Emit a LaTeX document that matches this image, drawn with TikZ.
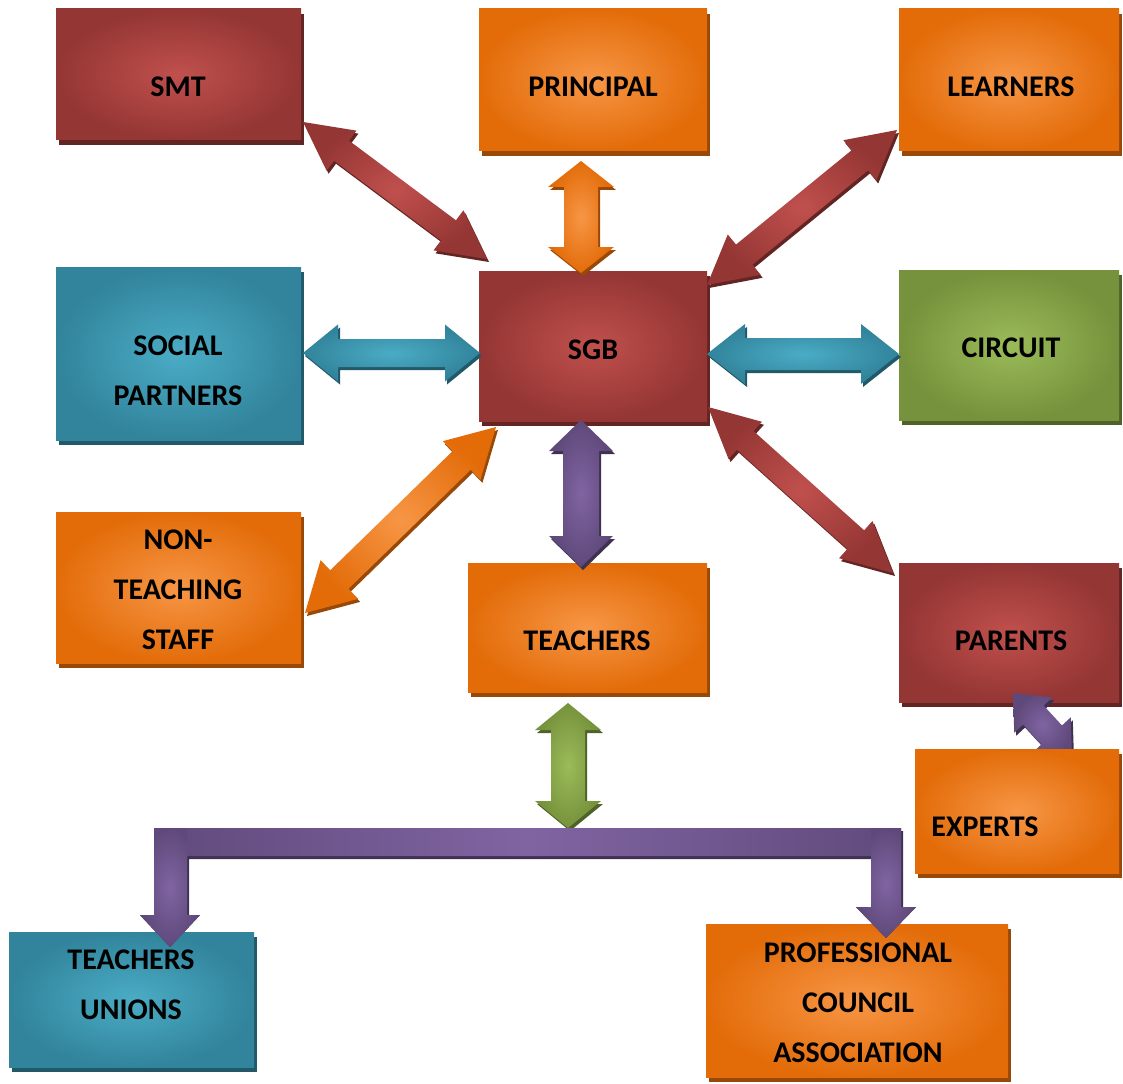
\documentclass[tikz,border=0pt]{standalone}
\usepackage{fontspec}
\setmainfont{Carlito}
\usetikzlibrary{calc,shadows,fit}
\definecolor{redB}{HTML}{943634}\definecolor{redL}{HTML}{C0504D}\definecolor{redD}{HTML}{632523}
\definecolor{orgB}{HTML}{E36C09}\definecolor{orgL}{HTML}{F79646}\definecolor{orgD}{HTML}{984807}
\definecolor{tealB}{HTML}{31849B}\definecolor{tealL}{HTML}{4BACC6}\definecolor{tealD}{HTML}{215968}
\definecolor{grnB}{HTML}{76923C}\definecolor{grnL}{HTML}{9BBB59}\definecolor{grnD}{HTML}{4F6228}
\definecolor{purB}{HTML}{5F497A}\definecolor{purL}{HTML}{8064A2}\definecolor{purD}{HTML}{3F3151}
\tikzset{
  boxbase/.style={rectangle, inner sep=0pt, draw=none},
  boxof/.style={boxbase, inner color=#1L, outer color=#1B,
     general shadow={fill=#1D, shadow xshift=3pt, shadow yshift=-5pt}},
  lbl/.style={font=\fontsize{30}{50}\selectfont\bfseries, align=center, inner sep=0pt, text=black},
  elbowshadow/.style={fill=purD, shift={(2,3)}},
  elbowfill/.style={left color=purB, right color=purB, middle color=purL},
  legfill/.style={inner color=purL, outer color=purB},
}
\newcommand\arrpoly[4]{%
  \path[#1] (0,0) -- (#4,#3) -- (#4,#2) -- ({\arrlen-#4},#2) -- ({\arrlen-#4},#3) -- (\arrlen,0)
    -- ({\arrlen-#4},-#3) -- ({\arrlen-#4},-#2) -- (#4,-#2) -- (#4,-#3) -- cycle;}
\newcommand\dblarrow[6]{%
  \path let \p1=($(#2)-(#1)$) in \pgfextra{\pgfmathsetmacro\tmplen{veclen(\x1,\y1)}\pgfmathsetmacro\tmpang{atan2(\y1,\x1)}\global\let\arrlen\tmplen\global\let\arrang\tmpang};
  \begin{scope}[shift={($(#1)+(2,3)$)}, rotate=\arrang, x=1pt, y=1pt]
    \arrpoly{fill=#3D}{#4}{#5}{#6}
  \end{scope}
  \begin{scope}[shift={(#1)}, rotate=\arrang, x=1pt, y=1pt]
    \arrpoly{inner color=#3L, outer color=#3B}{#4}{#5}{#6}
  \end{scope}}
\newcommand\elbowpath[1]{%
  \path[#1] (154,828) -- (901,828) -- (901,907) -- ($(barR)+(30,-31)$) -- (barR)
    -- ($(barR)+(-30,-31)$) -- (871,907) -- (871,856) -- (187,856) -- (187,915) -- ($(barL)+(30,-32)$)
    -- (barL) -- ($(barL)+(-30,-32)$) -- (154,915) -- cycle;}
\begin{document}
\begin{tikzpicture}[x=1pt, y=-1pt]
\fill[white] (0,0) rectangle (1123,1083);
\useasboundingbox (0,0) rectangle (1123,1083);
% boxes
\node[boxof=red,  fit={(56,9) (301,140)}] (smt) {};
\node[boxof=org,  fit={(479,9) (707,151)}] (prin) {};
\node[boxof=org,  fit={(899,9) (1119,151)}] (lrn) {};
\node[boxof=teal, fit={(56,267) (301,440)}] (soc) {};
\node[boxof=red,  fit={(479,271) (707,421)}] (sgb) {};
\node[boxof=grn,  fit={(899,270) (1119,420)}] (circ) {};
\node[boxof=org,  fit={(56,512) (301,663)}] (nts) {};
\node[boxof=org,  fit={(468,563) (707,692)}] (tch) {};
\node[boxof=red,  fit={(899,563) (1119,702)}] (par) {};
\node[boxof=teal, fit={(9,932) (254,1067)}] (tu) {};
\node[boxof=org,  fit={(706,924) (1008,1077)}] (pca) {};
% arrow end points
\coordinate (a1s) at (303,122); \coordinate (a1e) at (487,259);
\coordinate (a2s) at (581,161); \coordinate (a2e) at (581,273);
\coordinate (a3s) at (897,130); \coordinate (a3e) at (707,285);
\coordinate (a4s) at (303,353); \coordinate (a4e) at (480,353);
\coordinate (a5s) at (707,354); \coordinate (a5e) at (899,354);
\coordinate (a6s) at (305,613); \coordinate (a6e) at (496,427);
\coordinate (a7s) at (581,420); \coordinate (a7e) at (581,567);
\coordinate (a8s) at (708,407); \coordinate (a8e) at (893,573);
\coordinate (a9s) at (568,703); \coordinate (a9e) at (568,828);
\coordinate (a10s) at (1013,693); \coordinate (a10e) at (1072,757);
\coordinate (barL) at (170,947); \coordinate (barR) at (886,938);
% arrows
\dblarrow{a1s}{a1e}{red}{12.5}{25}{48}
\dblarrow{a2s}{a2e}{org}{17}{33}{26}
\dblarrow{a3s}{a3e}{red}{13}{26}{48}
\dblarrow{a4s}{a4e}{teal}{14}{28.5}{35}
\dblarrow{a5s}{a5e}{teal}{16}{30}{38}
\dblarrow{a6s}{a6e}{org}{13}{27}{48}
\dblarrow{a7s}{a7e}{pur}{18}{32}{31}
\dblarrow{a8s}{a8e}{red}{12.5}{25}{50}
\dblarrow{a9s}{a9e}{grn}{17}{33}{27}
\begin{scope}
  \clip (900,680) rectangle (1075,760);
  \dblarrow{a10s}{a10e}{pur}{14}{26}{30}
\end{scope}
\node[boxof=org, fit={(915,749) (1119,873)}] (exp) {};
% elbow connector to the unions and the council
\elbowpath{elbowshadow}
\elbowpath{elbowfill}
\path[legfill] (154,828) -- (187,828) -- (187,915) -- ($(barL)+(30,-32)$) -- (barL)
  -- ($(barL)+(-30,-32)$) -- (154,915) -- cycle;
\path[legfill] (871,828) -- (901,828) -- (901,907) -- ($(barR)+(30,-31)$) -- (barR)
  -- ($(barR)+(-30,-31)$) -- (871,907) -- cycle;
% labels
\node[lbl] (smtT) at (178,87) {SMT};
\node[lbl] (prinT) at (593,87) {PRINCIPAL};
\node[lbl] (lrnT) at (1011,87) {LEARNERS};
\node[lbl] (socT) at (178,371) {SOCIAL\\PARTNERS};
\node[lbl] (sgbT) at (593,350) {SGB};
\node[lbl] (circT) at (1011,348) {CIRCUIT};
\node[lbl] (ntsT) at (178,590) {NON-\\TEACHING\\STAFF};
\node[lbl] (tchT) at (587,641) {TEACHERS};
\node[lbl] (parT) at (1011,641) {PARENTS};
\node[lbl] (expT) at (985,827) {EXPERTS};
\node[lbl] (tuT) at (131,985) {TEACHERS\\UNIONS};
\node[lbl] (pcaT) at (858,1003) {PROFESSIONAL\\COUNCIL\\ASSOCIATION};
\end{tikzpicture}
\end{document}
